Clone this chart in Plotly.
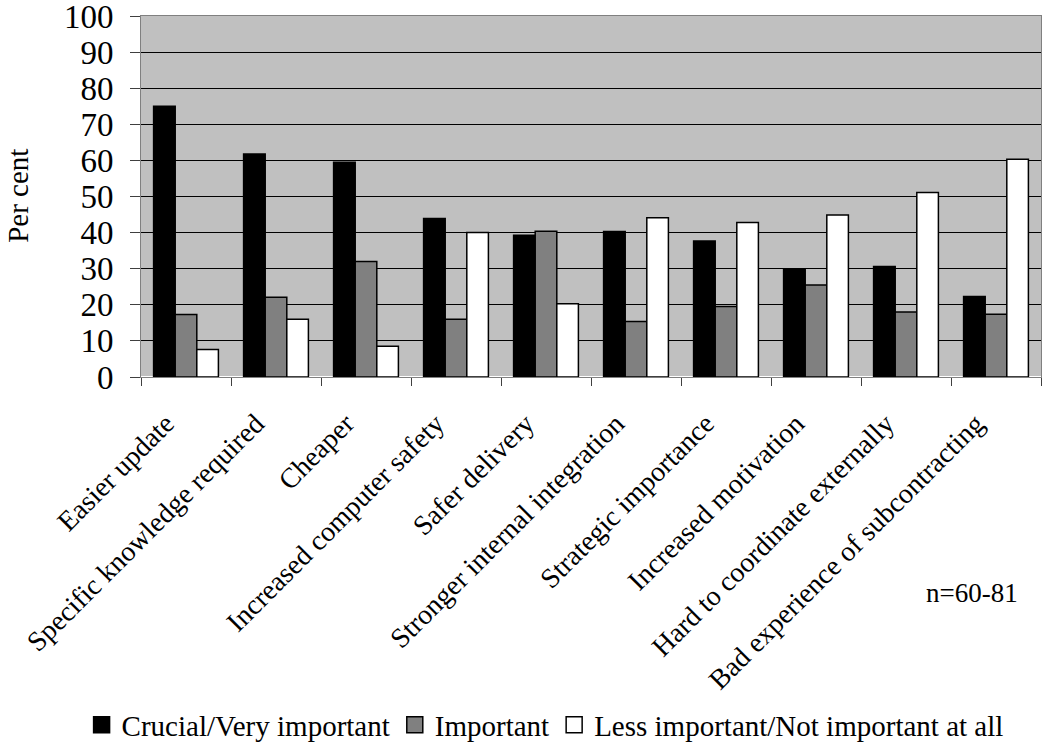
import plotly.graph_objects as go

categories = ["Easier update", "Specific knowledge required", "Cheaper",
              "Increased computer safety", "Safer delivery",
              "Stronger internal integration", "Strategic importance",
              "Increased motivation", "Hard to coordinate externally",
              "Bad experience of subcontracting"]
crucial = [75.0, 61.8, 59.5, 43.9, 39.3, 40.3, 37.7, 29.7, 30.6, 22.3]
important = [17.3, 22.1, 32.0, 16.0, 40.4, 15.4, 19.5, 25.5, 18.0, 17.4]
less = [7.6, 16.0, 8.5, 40.0, 20.3, 44.1, 42.8, 44.9, 51.1, 60.3]
series_names = ["Crucial/Very important", "Important", "Less important/Not important at all"]
colors = ["#000000", "#808080", "#ffffff"]
y_ticks = list(range(0, 101, 10))

FONT = "Liberation Serif, Times New Roman, serif"

fig = go.Figure()
for name, vals, col in zip(series_names, [crucial, important, less], colors):
    fig.add_trace(go.Bar(x=categories, y=vals, name=name, marker_color=col,
                         marker_line=dict(color="#000000", width=1.5),
                         showlegend=False))
    fig.add_trace(go.Scatter(x=[None], y=[None], mode="markers", name=name,
                             marker=dict(symbol="square", size=19, color=col,
                                         line=dict(color="#000000", width=1.5)),
                             showlegend=True))

fig.update_layout(
    width=1042, height=742,
    margin=dict(l=141, r=1, t=16, b=365, autoexpand=False),
    paper_bgcolor="#ffffff", plot_bgcolor="#c0c0c0",
    barmode="group", bargap=0.28, bargroupgap=0,
    font=dict(family=FONT, color="#000000"),
    legend=dict(orientation="h", x=-0.066, xanchor="left", y=-0.964, yanchor="middle",
                font=dict(family=FONT, size=29), itemwidth=30, tracegroupgap=0,
                bgcolor="rgba(0,0,0,0)"),
    xaxis=dict(tickangle=-45, tickfont=dict(family=FONT, size=28),
               showline=True, linecolor="#808080", linewidth=1, mirror=True,
               automargin=False, ticklabelstandoff=18, ticklabelshift=-20,
               ticklabeloverflow="allow",
               ticks="outside", ticklen=8, tickcolor="#404040", tickson="boundaries",
               showgrid=False),
    yaxis=dict(range=[0, 100], tickvals=y_ticks, tickfont=dict(family=FONT, size=33),
               showline=True, linecolor="#808080", linewidth=1, mirror=True,
               automargin=False, ticklabelstandoff=10, ticklabeloverflow="allow",
               ticks="outside", ticklen=10, tickcolor="#404040",
               gridcolor="#000000", gridwidth=1),
    annotations=[
        dict(text="n=60-81", xref="paper", yref="paper", x=0.923, y=-0.598,
             xanchor="center", yanchor="middle", showarrow=False,
             font=dict(family=FONT, size=27)),
        dict(text="Per cent", xref="paper", yref="paper", x=-0.137, y=0.501,
             xanchor="center", yanchor="middle", showarrow=False, textangle=-90,
             font=dict(family=FONT, size=29)),
    ],
)

fig.write_html("out.html", config={"displayModeBar": False},
               post_script="document.body.style.margin='0';document.body.style.padding='0';")
